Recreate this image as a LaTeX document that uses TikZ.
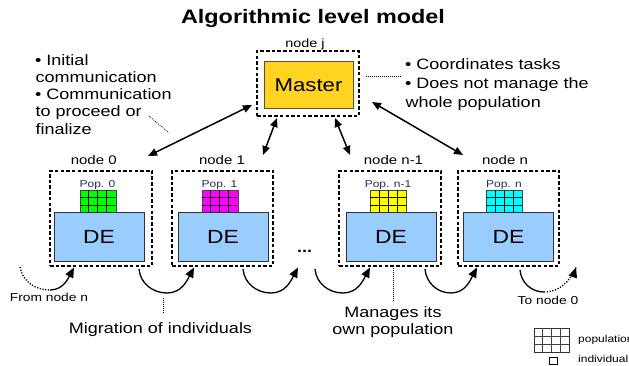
\documentclass[tikz,border=0pt]{standalone}
\usepackage{fontspec}
\setmainfont{Liberation Sans}[FakeStretch=1.2]
\usetikzlibrary{arrows.meta,calc}
\definecolor{goldbox}{RGB}{255,211,32}
\definecolor{goldline}{RGB}{90,80,60}
\definecolor{deblue}{RGB}{153,204,255}
\definecolor{popgreen}{RGB}{0,255,0}
\definecolor{popmag}{RGB}{255,0,255}
\definecolor{popyel}{RGB}{255,255,0}
\definecolor{popcyan}{RGB}{0,255,255}
\definecolor{poptext}{RGB}{35,45,85}
\definecolor{gridgray}{RGB}{70,70,70}
\tikzset{
  fs/.style={font=\fontsize{#1}{#1}\selectfont},
  nodebox/.style={draw, line width=1.5pt, dash pattern=on 3.5pt off 2.2pt, minimum width=102pt, minimum height=95pt, inner sep=0pt},
  debox/.style={draw=black!80, line width=1pt, fill=deblue, minimum width=90pt, minimum height=48pt, inner sep=0pt, font=\fontsize{19}{19}\selectfont},
  popbox/.style={draw=gridgray, line width=0.8pt, minimum width=36pt, minimum height=23pt, inner sep=0pt},
  gridline/.style={black, line width=0.8pt},
  poplabel/.style={anchor=base, inner sep=0pt, text=poptext, fs=10},
  nodelabel/.style={anchor=base, inner sep=0pt, fs=12.5},
  txt/.style={anchor=base west, inner sep=0pt, fs=15},
  ctxt/.style={anchor=base, inner sep=0pt, fs=15},
  link/.style={line width=1.5pt, {Triangle[length=9pt,width=7.5pt]}-{Triangle[length=9pt,width=7.5pt]}},
  migr/.style={line width=1.3pt},
  migrtip/.style={line width=1.3pt, -{Triangle[length=10pt,width=8.5pt]}},
  dotline/.style={line width=0.8pt, dash pattern=on 0.8pt off 1.2pt},
  curvedots/.style={line width=1.3pt, dash pattern=on 1.2pt off 1.6pt},
}
\begin{document}
\begin{tikzpicture}[x=1pt,y=-1pt]
\useasboundingbox (0,0) rectangle (629,366);
% title
\node[anchor=base, inner sep=0pt, font=\bfseries\fontsize{19.5}{19.5}\selectfont] (title) at (313,24) {Algorithmic level model};
% master
\node[nodebox, minimum height=65pt] (mouter) at (308,83.5) {};
\node[draw=goldline, line width=1pt, fill=goldbox, minimum width=89pt, minimum height=47pt, inner sep=0pt, font=\fontsize{18.5}{18.5}\selectfont] (master) at (308.5,85.5) {Master};
\node[nodelabel, fs=12] (nj) at (305,48) {node j};
% left notes
\node[txt] (l1) at (35,65.7) {• Initial};
\node[txt] (l2) at (35.5,82.8) {communication};
\node[txt] (l3) at (35,99.9) {• Communication};
\node[txt] (l4) at (35.5,117) {to proceed or};
\node[txt] (l5) at (35.5,134.1) {finalize};
% right notes
\node[txt] (r1) at (405,70) {• Coordinates tasks};
\node[txt] (r2) at (405,88.6) {• Does not manage the};
\node[txt] (r3) at (405.5,107.2) {whole population};
\coordinate (dl1a) at (149,116);
\coordinate (dl1b) at (169,133);
\draw[dotline] (dl1a) -- (dl1b);
\coordinate (dl2a) at (366,76);
\coordinate (dl2b) at (402,76);
\draw[dotline] (dl2a) -- (dl2b);
% worker nodes
\node[nodebox] (n0) at (101,218.5) {};
\node[nodebox, minimum width=101pt] (n1) at (222.5,218.5) {};
\node[nodebox] (nm) at (390,218.5) {};
\node[nodebox, minimum width=101pt] (nn) at (508.5,218.5) {};
\node[nodelabel] (n0l) at (93.7,165) {node 0};
\node[nodelabel] (n1l) at (222,165) {node 1};
\node[nodelabel] (nml) at (393.5,165) {node n-1};
\node[nodelabel] (nnl) at (505,165) {node n};
% population grids
\foreach \gx/\col/\nm in {79.5/popgreen/g0, 201.5/popmag/g1, 370/popyel/gm, 486/popcyan/gn}{
  \node[popbox, fill=\col, anchor=north west] (\nm) at (\gx,190) {};
  \foreach \k in {1,2,3} \draw[gridline] (\gx+9*\k,190.4) -- (\gx+9*\k,212.6);
  \foreach \k in {1,2} \draw[gridline] (\gx+0.4,190+23*\k/3) -- (\gx+35.6,190+23*\k/3);
}
\node[poplabel] (p0) at (97.5,187.5) {Pop. 0};
\node[poplabel] (p1) at (219.5,187.5) {Pop. 1};
\node[poplabel] (pm) at (388,187.5) {Pop. n-1};
\node[poplabel] (pn) at (504,187.5) {Pop. n};
% DE boxes
\node[debox] (de0) at (99,237) {DE};
\node[debox] (de1) at (223,237) {DE};
\node[debox] (dem) at (391,237) {DE};
\node[debox] (den) at (508.5,237) {DE};
\node[anchor=base west, inner sep=0pt, font=\bfseries\fontsize{15}{15}\selectfont] (dots) at (297,252) {...};
% master links
\coordinate (a1m) at (252,105); \coordinate (a1n) at (148,156);
\coordinate (a2m) at (277,118); \coordinate (a2n) at (263,155);
\coordinate (a3m) at (335,118); \coordinate (a3n) at (350,155);
\coordinate (a4m) at (372,102); \coordinate (a4n) at (463,155);
\draw[link] (a1n) -- (a1m);
\draw[link] (a2n) -- (a2m);
\draw[link] (a3n) -- (a3m);
\draw[link] (a4n) -- (a4m);
% migration curves
\foreach \s/\b/\t in {139/167/194, 243/271/298, 315/343/370, 425/451/477}{
  \draw[migrtip] (\s,269) to[out=-85,in=180] (\b,293) to[out=0,in=-118] (\t,267.5);
}
\coordinate (fs) at (20,267);
\coordinate (fb) at (50,290);
\coordinate (ft) at (74,267.5);
\draw[curvedots] (fs) to[out=-80,in=180] (fb);
\draw[migrtip] (fb) to[out=0,in=-118] (ft);
\coordinate (ts) at (520,270);
\coordinate (tb) at (544,292);
\coordinate (tt) at (576,267.5);
\draw[migr] (ts) to[out=-85,in=180] (tb);
\draw[curvedots] (tb) to[out=0,in=-115] (tt);
\draw[line width=1.3pt, -{Triangle[length=10pt,width=8.5pt]}] ($(tt)+(-1,3)$) -- (tt);
\node[anchor=base, inner sep=0pt, fs=11.5] (from) at (49,301) {From node n};
\node[anchor=base, inner sep=0pt, fs=11.5] (to) at (548,304) {To node 0};
% bottom labels
\coordinate (dl3a) at (163,298);
\coordinate (dl3b) at (163,313);
\draw[dotline] (dl3a) -- (dl3b);
\node[ctxt] (mig) at (160.5,333) {Migration of individuals};
\coordinate (dl4a) at (393,268);
\coordinate (dl4b) at (393,302);
\draw[dotline] (dl4a) -- (dl4b);
\node[ctxt] (man1) at (393,317) {Manages its};
\node[ctxt] (man2) at (393,334) {own population};
% legend
\node[draw=black!80, line width=0.8pt, fill=white, minimum width=35pt, minimum height=24pt, inner sep=0pt, anchor=north west] (lg) at (534,328) {};
\foreach \k in {1,2,3} \draw[gridline, black!75] (534+8.75*\k,328) -- (534+8.75*\k,352);
\foreach \k in {1,2} \draw[gridline, black!75] (534,328+8*\k) -- (569,328+8*\k);
\node[draw=black, line width=0.8pt, minimum width=8pt, minimum height=7pt, inner sep=0pt, anchor=north west] (ind) at (549,357) {};
\node[anchor=base west, inner sep=0pt, fs=10] (lgt1) at (578,342) {population};
\node[anchor=base west, inner sep=0pt, fs=10] (lgt2) at (578,362) {individual};
\end{tikzpicture}
\end{document}
